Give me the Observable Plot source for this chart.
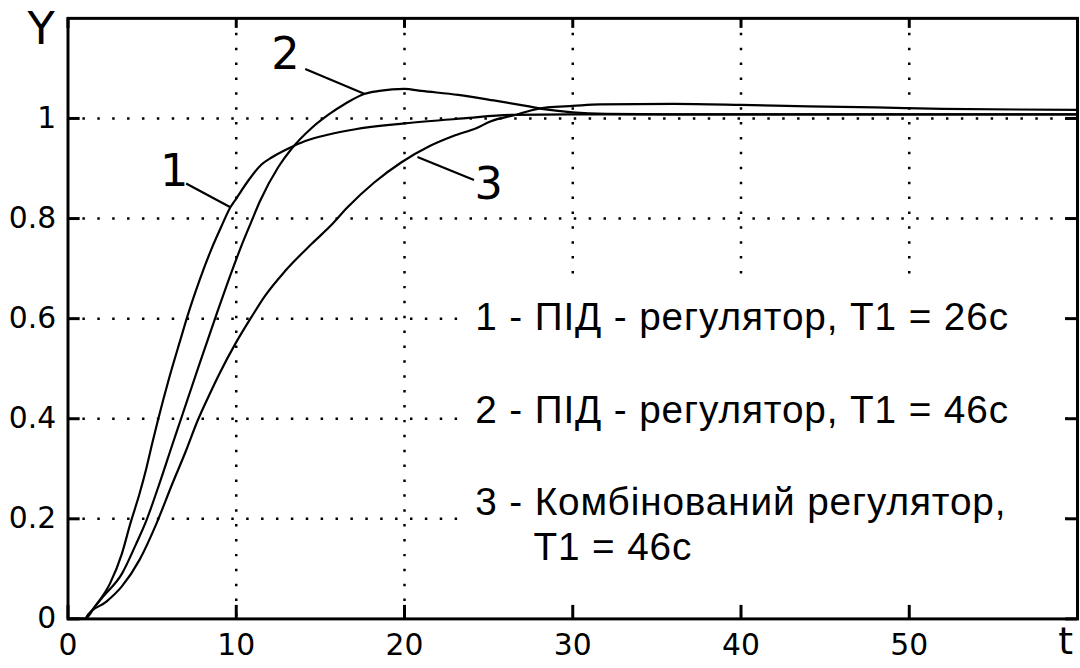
<!DOCTYPE html>
<html>
<head>
<meta charset="utf-8">
<script src="https://cdn.jsdelivr.net/npm/d3@7"></script>
<script src="https://cdn.jsdelivr.net/npm/@observablehq/plot@0.6"></script>
<style>
html, body { margin: 0; padding: 0; background: #fff; overflow: hidden; width: 1080px; height: 668px; }
#chart svg { display: block; }
#chart g[font-family="Liberation Sans"] text, #chart g[font-family="Liberation Sans"] tspan { letter-spacing: 0.9px; }
</style>
</head>
<body>
<div id="chart"></div>
<script>
// ---- data ----
const t1 = [0, 1.0, 1.6, 2.5, 3.2, 3.7, 4.25, 4.65, 5.0, 5.33, 6.0, 6.7, 7.1, 7.8, 8.5, 9.1, 9.66, 10.0, 10.7, 11.5, 12.1, 13.1, 14.1, 15.5, 17.0, 20, 23.5, 26.3, 30, 40, 50, 60];
const y1 = [0, 0, 0.025, 0.071, 0.13, 0.19, 0.25, 0.30, 0.35, 0.395, 0.48, 0.56, 0.605, 0.675, 0.737, 0.783, 0.823, 0.84, 0.875, 0.908, 0.922, 0.94, 0.955, 0.968, 0.978, 0.99, 1.0, 1.007, 1.008, 1.008, 1.008, 1.008];

const t2 = [0, 1.0, 1.3, 2.1, 3.2, 4.05, 4.65, 5.45, 6.2, 6.7, 7.1, 7.8, 8.8, 9.75, 10.3, 10.9, 11.4, 12.5, 13.3, 14.45, 15.5, 16.5, 17.6, 18.5, 20, 21, 23.2, 25.3, 27.4, 28.4, 30, 32, 36, 40, 50, 60];
const y2 = [0, 0, 0.012, 0.045, 0.09, 0.15, 0.196, 0.272, 0.348, 0.398, 0.438, 0.508, 0.606, 0.696, 0.745, 0.794, 0.834, 0.903, 0.94, 0.98, 1.008, 1.03, 1.049, 1.055, 1.059, 1.055, 1.047, 1.036, 1.024, 1.018, 1.012, 1.009, 1.008, 1.008, 1.008, 1.008];

const t3 = [0, 1.0, 1.2, 2.3, 3.2, 4.25, 5.25, 6.2, 7.0, 7.7, 8.5, 9.0, 9.95, 10.9, 11.7, 12.9, 14.5, 15.65, 16.6, 18.2, 19.8, 21.5, 22.9, 24.3, 25.1, 26.7, 27.5, 28.5, 30, 31.6, 36, 40, 44, 48, 52, 60];
const y3 = [0, 0, 0.009, 0.035, 0.065, 0.118, 0.19, 0.27, 0.335, 0.396, 0.455, 0.49, 0.55, 0.603, 0.645, 0.695, 0.75, 0.787, 0.822, 0.872, 0.912, 0.945, 0.965, 0.981, 0.994, 1.008, 1.016, 1.022, 1.025, 1.028, 1.029, 1.027, 1.024, 1.022, 1.019, 1.017];

const xTicks = [0, 10, 20, 30, 40, 50];
const yTicks = [0, 0.2, 0.4, 0.6, 0.8, 1];
const xGrid = [10, 20, 30, 40, 50];
const yGrid = [0.2, 0.4, 0.6, 0.8, 1];
const curveLabels = ["1", "2", "3"];
const legendLines = ["1 - ПІД - регулятор, T1 = 26с", "2 - ПІД - регулятор, T1 = 46с", "3 - Комбінований регулятор,\n\u00a0\u00a0\u00a0\u00a0\u00a0T1 = 46с"];
const xAxisName = "t";
const yAxisName = "Y";

// ---- build tables ----
const toRows = (ts, ys, s) => ts.map((t, i) => ({t, y: ys[i], s}));
const rows = [...toRows(t1, y1, "1"), ...toRows(t2, y2, "2"), ...toRows(t3, y3, "3")];

const labelPos = [
  {label: curveLabels[0], x: 6.31, y: 0.893, lx1: 7.02, ly1: 0.870, lx2: 9.68, ly2: 0.822},
  {label: curveLabels[1], x: 12.92, y: 1.128, lx1: 14.1, ly1: 1.099, lx2: 17.64, ly2: 1.049},
  {label: curveLabels[2], x: 25.0, y: 0.868, lx1: 20.77, ly1: 0.923, lx2: 24.13, ly2: 0.877}
];
const legendPos = [
  {text: legendLines[0], x: 24.2, y: 0.607},
  {text: legendLines[1], x: 24.2, y: 0.421},
  {text: legendLines[2], x: 24.2, y: 0.191}
];
const legendBox = [{x1: 23.4, x2: 58.8, y1: 0.006, y2: 0.672}];

const dot = {stroke: "black", strokeWidth: 2.5, strokeDasharray: "2.5,12.5"};

const chart = Plot.plot({
  width: 1088,
  height: 668,
  marginLeft: 68,
  marginRight: 3,
  marginTop: 18,
  marginBottom: 45,
  style: {fontFamily: "DejaVu Sans", fontSize: "30px", background: "white", color: "black"},
  x: {domain: [0, 60], label: null},
  y: {domain: [0, 1.2], label: null},
  marks: [
    Plot.ruleX(xGrid, {x: d => d, ...dot}),
    Plot.ruleY(yGrid, {y: d => d, ...dot}),
    Plot.rect(legendBox, {x1: "x1", x2: "x2", y1: "y1", y2: "y2", fill: "white"}),
    // inward ticks
    Plot.ruleX(xTicks, {x: d => d, y1: 0, y2: 0.027, stroke: "black", strokeWidth: 3}),
    Plot.ruleX(xTicks, {x: d => d, y1: 1.18, y2: 1.2, stroke: "black", strokeWidth: 3}),
    Plot.ruleY(yTicks, {y: d => d, x1: 0, x2: 0.72, stroke: "black", strokeWidth: 3}),
    Plot.ruleY(yTicks, {y: d => d, x1: 59.3, x2: 60, stroke: "black", strokeWidth: 3}),
    Plot.frame({stroke: "black", strokeWidth: 3}),
    Plot.axisX({ticks: xTicks, tickSize: 0, tickPadding: 15, fontSize: 30, tickFormat: d => String(d)}),
    Plot.axisY({ticks: yTicks, tickSize: 0, tickPadding: 12, fontSize: 30, tickFormat: d => String(d)}),
    Plot.line(rows, {x: "t", y: "y", z: "s", stroke: "black", strokeWidth: 2.2, curve: "monotone-x"}),
    Plot.link(labelPos, {x1: "lx1", y1: "ly1", x2: "lx2", y2: "ly2", stroke: "black", strokeWidth: 2.2}),
    Plot.text(labelPos, {x: "x", y: "y", text: "label", fontSize: 45, fill: "black"}),
    Plot.text(legendPos, {x: "x", y: "y", text: "text", textAnchor: "start", lineAnchor: "middle", lineHeight: 1.17, fontSize: 39, fontFamily: "Liberation Sans", fill: "black"}),
    Plot.text([yAxisName], {frameAnchor: "top-left", textAnchor: "middle", lineAnchor: "middle", dx: -27, dy: 11, fontSize: 45, fill: "black"}),
    Plot.text([xAxisName], {frameAnchor: "bottom-right", textAnchor: "middle", lineAnchor: "top", dx: -12, dy: 8, fontSize: 38, fill: "black"})
  ]
});
document.getElementById("chart").append(chart);
</script>
</body>
</html>
